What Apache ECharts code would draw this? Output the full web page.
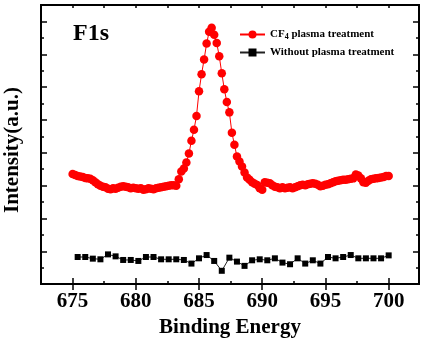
<!DOCTYPE html>
<html><head><meta charset="utf-8">
<script src="https://cdn.jsdelivr.net/npm/echarts@6/dist/echarts.min.js"></script>
<style>html,body{margin:0;padding:0;background:#fff}#c{width:426px;height:343px}</style>
</head><body><div id="c"></div>
<script>
const energyCF4 = [
675.0,675.2,675.4,675.6,675.8,676.0,676.2,676.4,676.6,676.8,677.0,677.2,677.4,677.6,677.8,678.0,678.2,678.4,678.6,678.8,679.0,679.2,679.4,679.6,679.8,
680.0,680.2,680.4,680.6,680.8,681.0,681.2,681.4,681.6,681.8,682.0,682.2,682.4,682.6,682.8,683.0,683.2,683.4,683.6,683.8,684.0,684.2,684.4,684.6,684.8,
685.0,685.2,685.4,685.6,685.8,686.0,686.2,686.4,686.6,686.8,687.0,687.2,687.4,687.6,687.8,688.0,688.2,688.4,688.6,688.8,689.0,689.2,689.4,689.6,689.8,
690.0,690.2,690.4,690.6,690.8,691.0,691.2,691.4,691.6,691.8,692.0,692.2,692.4,692.6,692.8,693.0,693.2,693.4,693.6,693.8,694.0,694.2,694.4,694.6,694.8,
695.0,695.2,695.4,695.6,695.8,696.0,696.2,696.4,696.6,696.8,697.0,697.2,697.4,697.6,697.8,698.0,698.2,698.4,698.6,698.8,699.0,699.2,699.4,699.6,699.8,
700.0];
const intensityCF4 = [
6.71,6.65,6.59,6.56,6.53,6.47,6.44,6.41,6.32,6.20,6.08,5.99,5.93,5.90,5.81,5.78,5.84,5.81,5.87,5.93,5.96,5.93,5.90,5.84,5.87,
5.84,5.81,5.84,5.75,5.78,5.84,5.81,5.78,5.84,5.87,5.90,5.93,5.96,5.99,6.02,6.02,5.99,6.38,6.86,7.04,7.40,7.95,8.73,9.40,10.24,
11.75,12.78,13.68,14.65,15.37,15.61,15.19,14.68,13.88,12.84,11.87,11.09,10.46,9.22,8.49,7.77,7.47,7.16,6.80,6.50,6.35,6.20,6.11,6.04,5.84,
5.75,6.20,6.17,6.14,6.02,5.93,5.90,5.84,5.90,5.84,5.87,5.90,5.84,5.90,5.96,6.02,6.05,6.02,6.08,6.11,6.14,6.11,6.05,5.96,5.99,
6.05,6.08,6.14,6.20,6.26,6.29,6.32,6.35,6.35,6.38,6.41,6.44,6.68,6.62,6.44,6.20,6.17,6.29,6.38,6.41,6.44,6.47,6.50,6.53,6.59,
6.59];
const energyBare = [675.4,676.0,676.6,677.2,677.8,678.4,679.0,679.6,680.2,680.8,681.4,682.0,682.6,683.2,683.8,684.4,685.0,685.6,686.2,686.8,687.4,
688.0,688.6,689.2,689.8,690.4,691.0,691.6,692.2,692.8,693.4,694.0,694.6,695.2,695.8,696.4,697.0,697.6,698.2,698.8,699.4,700.0];
const intensityBare = [1.65,1.65,1.55,1.51,1.81,1.69,1.47,1.47,1.41,1.65,1.65,1.51,1.51,1.51,1.47,1.25,1.57,1.77,1.41,0.81,1.61,
1.37,1.11,1.45,1.51,1.45,1.57,1.31,1.21,1.57,1.25,1.45,1.25,1.65,1.57,1.65,1.77,1.57,1.57,1.57,1.57,1.75];
const xTickLabels = [675,680,685,690,695,700];
const seriesNames = ['CF4 plasma treatment','Without plasma treatment'];
const xTitle = 'Binding Energy';
const yTitle = 'Intensity(a.u.)';
const panelLabel = 'F1s';

const FONT = '"Liberation Serif","Times New Roman",serif';
const chart = echarts.init(document.getElementById('c'), null, {renderer:'canvas'});
function xAx(pos, opts){
  return Object.assign({type:'value', position:pos, min:672.5, max:702.4, interval:2.5,
    axisLine:{show:true, onZero:false, lineStyle:{color:'#000', width:2}},
    axisTick:{show:true, inside:true, length:3, lineStyle:{color:'#000', width:1.5}},
    axisLabel:{show:false}, splitLine:{show:false}}, opts||{});
}
function yAx(pos, interval, len){
  return {type:'value', position:pos, min:0, max:17, interval:interval,
    axisLine:{show:true, onZero:false, lineStyle:{color:'#000', width:2}},
    axisTick:{show:true, inside:true, length:len, lineStyle:{color:'#000', width:1.5}},
    axisLabel:{show:false}, splitLine:{show:false}};
}
const option = {
  animation:false,
  backgroundColor:'#fff',
  grid:{left:41, top:5, width:378, height:281.7, containLabel:false},
  xAxis:[
    xAx('bottom', {axisLabel:{show:true, customValues:xTickLabels, margin:7, color:'#000',
      fontFamily:FONT, fontWeight:'bold', fontSize:21},
      name:xTitle, nameLocation:'middle', nameGap:32,
      nameTextStyle:{color:'#000', fontFamily:FONT, fontWeight:'bold', fontSize:21}}),
    xAx('bottom', {axisLine:{show:false}, axisTick:{show:true, inside:true, length:6, customValues:xTickLabels, lineStyle:{color:'#000', width:1.5}}}),
    xAx('top'),
    xAx('top', {axisLine:{show:false}, axisTick:{show:true, inside:true, length:6, customValues:xTickLabels, lineStyle:{color:'#000', width:1.5}}})
  ],
  yAxis:[yAx('left',1,3), yAx('left',2,6), yAx('right',1,3), yAx('right',2,6)],
  legend:{
    orient:'vertical', left:234, top:24, itemWidth:25, itemHeight:10, itemGap:6,
    data:seriesNames,
    formatter:function(n){ return n.indexOf('CF4')===0 ? 'CF{sub|4}' + n.slice(3) : n; },
    textStyle:{color:'#000', fontFamily:FONT, fontWeight:'bold', fontSize:11,
      rich:{sub:{fontFamily:FONT, fontWeight:'bold', fontSize:8, padding:[5,0,0,0]}}}
  },
  graphic:[
    {type:'text', left:73, top:22, style:{text:panelLabel, fill:'#000', font:'bold 24px '+FONT}},
    {type:'text', x:12.5, y:150, rotation:Math.PI/2, style:{text:yTitle, fill:'#000', font:'bold 21px '+FONT, align:'center', verticalAlign:'middle'}}
  ],
  series:[
    {name:seriesNames[0], type:'line', xAxisIndex:0, yAxisIndex:0,
     data:energyCF4.map((e,i)=>[e,intensityCF4[i]]),
     symbol:'circle', symbolSize:8.5, itemStyle:{color:'#ff0000'},
     lineStyle:{color:'#ff0000', width:1}},
    {name:seriesNames[1], type:'line', xAxisIndex:0, yAxisIndex:0,
     data:energyBare.map((e,i)=>[e,intensityBare[i]]),
     symbol:'rect', symbolSize:6, itemStyle:{color:'#000'},
     lineStyle:{color:'#222', width:1}}
  ]
};
chart.setOption(option);
</script>
</body></html>
